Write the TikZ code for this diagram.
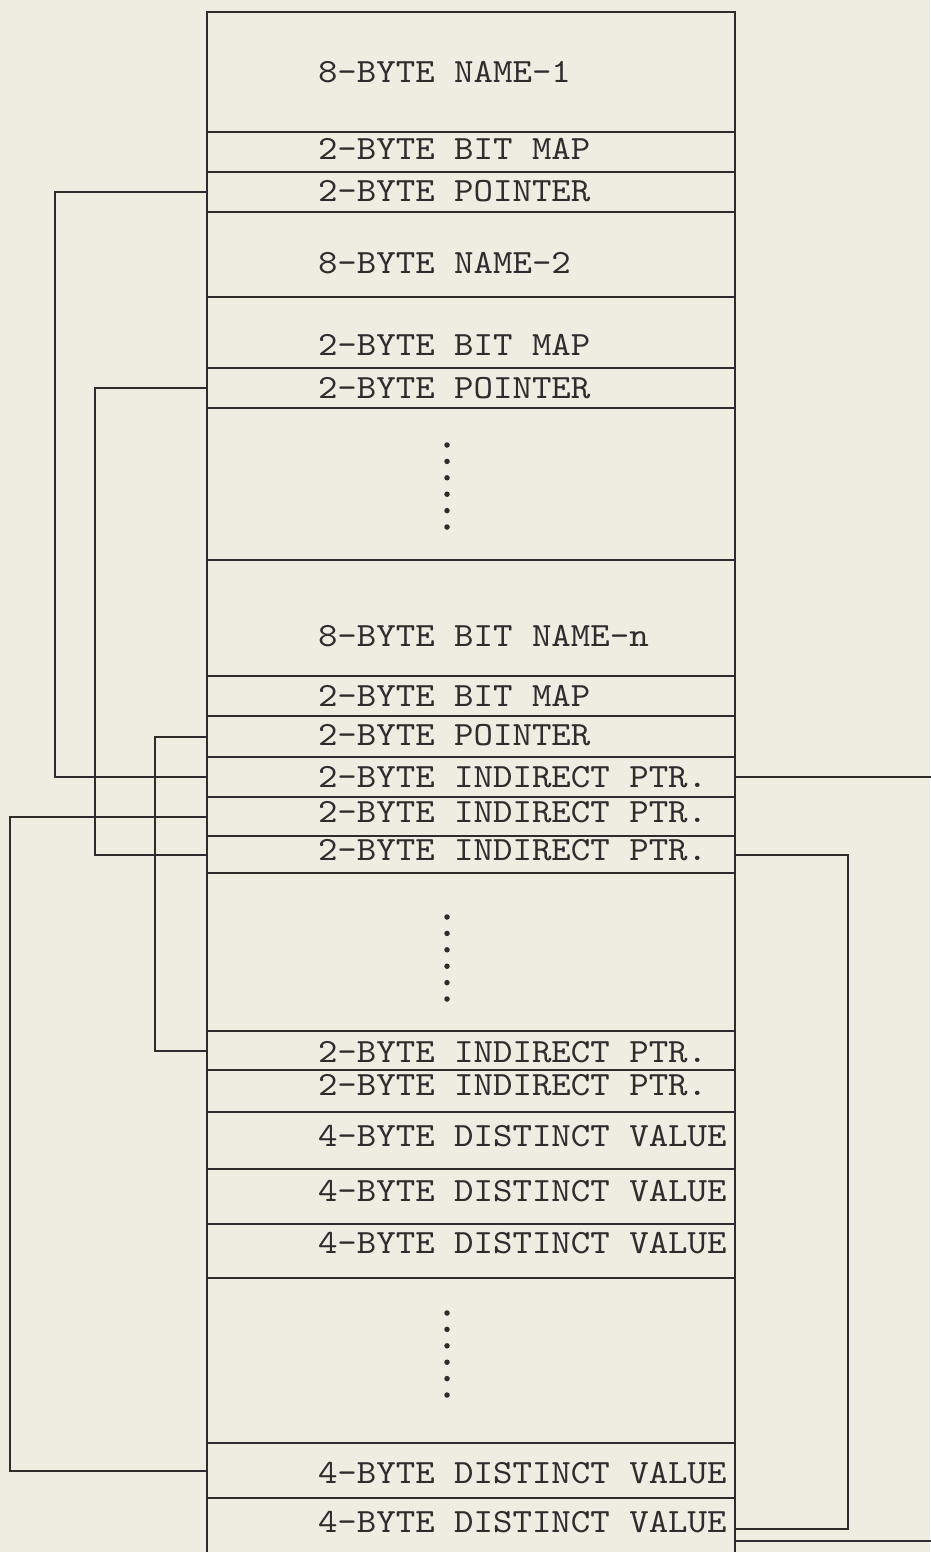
\documentclass[tikz,border=0pt]{standalone}
\usepackage{fontspec}
\newfontfamily\tw{lmmono10-regular.otf}[FakeStretch=1.09]
\definecolor{paper}{RGB}{238,237,225}
\definecolor{ink}{RGB}{45,45,45}
\tikzset{
 cellbox/.style={draw=ink, line width=2.4pt, minimum width=528pt, inner sep=0pt, outer sep=0pt, anchor=north west},
 lbl/.style={font=\tw\fontsize{34}{38}\selectfont, text=ink, inner sep=0pt, outer sep=0pt, anchor=west, text height=20.8pt, text depth=0pt},
 wire/.style={draw=ink, line width=2pt},
 dotmark/.style={circle, fill=ink, inner sep=0pt, minimum size=5.5pt}
}
\begin{document}
\begin{tikzpicture}[x=1pt,y=-1pt]
\path[use as bounding box, fill=paper] (0,0) rectangle (930,1552);
% cells
\node[cellbox, minimum height=120pt] (c1) at (207,12) {};
\node[cellbox, minimum height=40pt] (c2) at (207,132) {};
\node[cellbox, minimum height=40pt] (c3) at (207,172) {};
\node[cellbox, minimum height=85pt] (c4) at (207,212) {};
\node[cellbox, minimum height=71pt] (c5) at (207,297) {};
\node[cellbox, minimum height=40pt] (c6) at (207,368) {};
\node[cellbox, minimum height=152pt] (c7) at (207,408) {};
\node[cellbox, minimum height=116pt] (c8) at (207,560) {};
\node[cellbox, minimum height=40pt] (c9) at (207,676) {};
\node[cellbox, minimum height=41pt] (c10) at (207,716) {};
\node[cellbox, minimum height=40pt] (c11) at (207,757) {};
\node[cellbox, minimum height=39pt] (c12) at (207,797) {};
\node[cellbox, minimum height=37pt] (c13) at (207,836) {};
\node[cellbox, minimum height=158pt] (c14) at (207,873) {};
\node[cellbox, minimum height=39pt] (c15) at (207,1031) {};
\node[cellbox, minimum height=42pt] (c16) at (207,1070) {};
\node[cellbox, minimum height=57pt] (c17) at (207,1112) {};
\node[cellbox, minimum height=55pt] (c18) at (207,1169) {};
\node[cellbox, minimum height=54pt] (c19) at (207,1224) {};
\node[cellbox, minimum height=165pt] (c20) at (207,1278) {};
\node[cellbox, minimum height=55pt] (c21) at (207,1443) {};
\node[cellbox, draw=none, minimum height=62pt] (c22) at (207,1498) {};
\draw[ink, line width=2.4pt] (c22.south west) -- (c22.north west) -- (c22.north east) -- (c22.south east);
% labels
\node[lbl] (t1) at (318,72) {8-BYTE NAME-1};
\node[lbl] (t2) at (318,149) {2-BYTE BIT MAP};
\node[lbl] (t3) at (318,191) {2-BYTE POINTER};
\node[lbl] (t4) at (318,263) {8-BYTE NAME-2};
\node[lbl] (t5) at (318,345) {2-BYTE BIT MAP};
\node[lbl] (t6) at (318,388) {2-BYTE POINTER};
\node[lbl] (t8) at (318,636) {8-BYTE BIT NAME-n};
\node[lbl] (t9) at (318,696) {2-BYTE BIT MAP};
\node[lbl] (t10) at (318,735) {2-BYTE POINTER};
\node[lbl] (t11) at (318,777) {2-BYTE INDIRECT PTR.};
\node[lbl] (t12) at (318,812) {2-BYTE INDIRECT PTR.};
\node[lbl] (t13) at (318,850) {2-BYTE INDIRECT PTR.};
\node[lbl] (t15) at (318,1052) {2-BYTE INDIRECT PTR.};
\node[lbl] (t16) at (318,1085) {2-BYTE INDIRECT PTR.};
\node[lbl] (t17) at (318,1136) {4-BYTE DISTINCT VALUE};
\node[lbl] (t18) at (318,1191) {4-BYTE DISTINCT VALUE};
\node[lbl] (t19) at (318,1243) {4-BYTE DISTINCT VALUE};
\node[lbl] (t21) at (318,1473) {4-BYTE DISTINCT VALUE};
\node[lbl] (t22) at (318,1522) {4-BYTE DISTINCT VALUE};
% vertical ellipses
\foreach \y in {445,461.4,477.8,494.2,510.6,527} {\node[dotmark] at (447,\y) {};}
\foreach \y in {917,933.4,949.8,966.2,982.6,999} {\node[dotmark] at (447,\y) {};}
\foreach \y in {1313,1329.4,1345.8,1362.2,1378.6,1395} {\node[dotmark] at (447,\y) {};}
% connectors
\draw[wire] (c3.west) -- ++(-152,0) |- (c11.west);
\draw[wire] (c6.west) -- ++(-112,0) |- (c13.west);
\draw[wire] (c10.west) -- ++(-52,0) |- (c15.west);
\draw[wire] (c12.west) -- ++(-197,0) |- (c21.west);
\draw[wire] (c11.east) -- ++(220,0);
\draw[wire] (c13.east) -- ++(113,0) |- (c22.east);
\coordinate (tail) at (735,1541);
\draw[wire] (tail) -- ++(220,0);
\end{tikzpicture}
\end{document}
